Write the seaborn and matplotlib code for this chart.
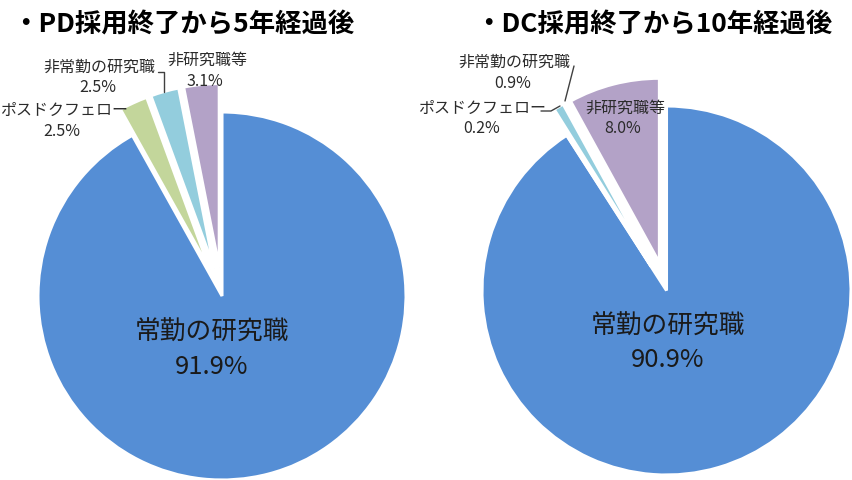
import matplotlib
matplotlib.use("Agg")
import matplotlib.pyplot as plt
from matplotlib.lines import Line2D
import seaborn as sns

# ---- data ----
categories = ["常勤の研究職", "ポスドクフェロー", "非常勤の研究職", "非研究職等"]
pd_values = [91.9, 2.5, 2.5, 3.1]
dc_values = [90.9, 0.2, 0.9, 8.0]
titles = ["・PD採用終了から5年経過後", "・DC採用終了から10年経過後"]

sns.set_theme(style="white")
plt.rcParams["font.family"] = ["Noto Sans CJK JP", "DejaVu Sans"]

palette = sns.color_palette(["#558ED5", "#C3D69B", "#93CDDD", "#B3A2C7"])

W, H = 853, 481
fig = plt.figure(figsize=(W / 100, H / 100), dpi=100)


def fx(x):
    return x / W


def fy(y):
    return 1 - y / H


def make_pie(left, width, cx, cy, r, values):
    ax = fig.add_axes([left / W, 0, width / W, 1])
    ax.pie(values, colors=palette, startangle=90, counterclock=False,
           explode=[0, 0.155, 0.155, 0.155],
           wedgeprops=dict(edgecolor="white", linewidth=2.2))
    ax.set_aspect("auto")
    ax.set_xlim(-cx / r, (width - cx) / r)
    ax.set_ylim(-(H - cy) / r, cy / r)
    ax.axis("off")
    return ax


make_pie(0, 430, 222, 297, 184, pd_values)
make_pie(430, 423, 236.5, 291.5, 184.5, dc_values)

# titles
fig.text(fx(183), fy(25), titles[0], fontsize=19, fontweight="bold",
         ha="center", va="center", color="black")
fig.text(fx(654), fy(25), titles[1], fontsize=19, fontweight="bold",
         ha="center", va="center", color="black")

lab_col = "#2b2b2b"
big = 18.5
small = 11.5


def label(x, y, s, size=small, color=lab_col):
    fig.text(fx(x), fy(y), s, fontsize=size, ha="center", va="center", color=color)


def pct(v):
    return f"{v:.1f}%"


# left pie labels
label(212, 333, categories[0], big, "#1a1a1a")
label(212, 367, pct(pd_values[0]), big, "#1a1a1a")
label(64, 110, categories[1])
label(62, 132, pct(pd_values[1]))
label(99.5, 67, categories[2])
label(98, 88, pct(pd_values[2]))
label(207, 60, categories[3])
label(205, 82, pct(pd_values[3]))

# right pie labels
label(668, 327, categories[0], big, "#1a1a1a")
label(668, 360, pct(dc_values[0]), big, "#1a1a1a")
label(482.5, 108, categories[1])
label(482, 129, pct(dc_values[1]))
label(514, 62, categories[2])
label(513, 83, pct(dc_values[2]))
label(625, 108, categories[3])
label(623, 129, pct(dc_values[3]))

# leader lines
leaders = [
    [(158, 73), (164, 73), (164, 93)],
    [(574, 67), (565, 102)],
    [(541, 112), (551, 112), (560, 107)],
]
for pts in leaders:
    xs = [fx(p[0]) for p in pts]
    ys = [fy(p[1]) for p in pts]
    fig.add_artist(Line2D(xs, ys, transform=fig.transFigure, color="#404040", lw=1))

fig.savefig("out.png", dpi=100)
